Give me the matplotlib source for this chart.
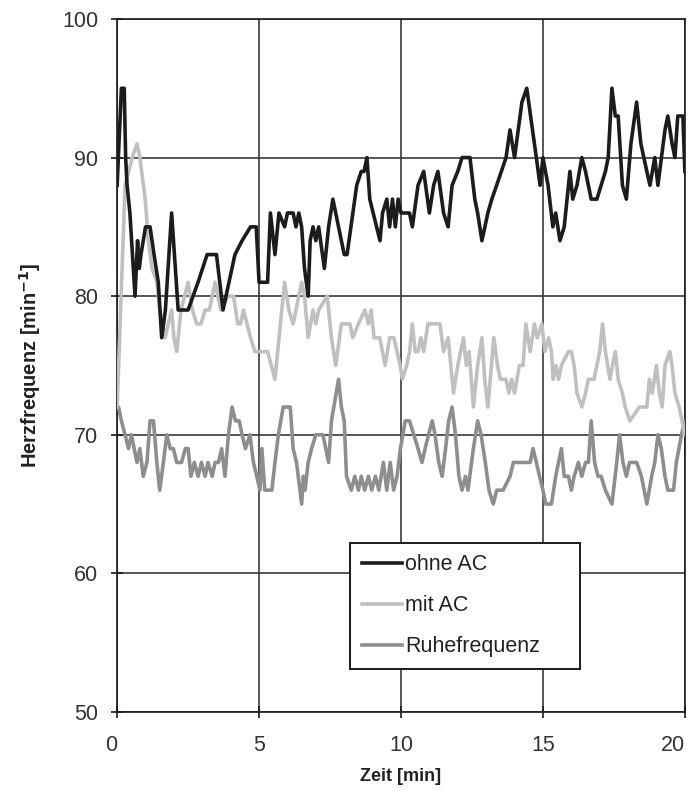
import matplotlib
matplotlib.use("Agg")
import matplotlib.pyplot as plt

plt.rcParams['font.family'] = ['Liberation Sans', 'DejaVu Sans']

# ohne AC
t_ohne = [0.0, 0.15, 0.25, 0.3, 0.35, 0.45, 0.63, 0.72, 0.78, 0.84, 1.0, 1.16, 1.3, 1.45, 1.57, 1.7,
          1.92, 2.15, 2.5, 2.85, 3.17, 3.5, 3.73, 4.15, 4.4, 4.7, 4.9, 5.0, 5.3, 5.4, 5.56, 5.7, 5.9,
          6.0, 6.2, 6.3, 6.4, 6.5, 6.6, 6.73, 6.8, 6.9, 7.0, 7.1, 7.3, 7.45, 7.6, 8.0, 8.1, 8.44, 8.6,
          8.7, 8.8, 8.9, 9.26, 9.35, 9.5, 9.6, 9.7, 9.8, 9.9, 10.0, 10.2, 10.3, 10.4, 10.6, 10.8, 11.0,
          11.15, 11.3, 11.5, 11.66, 11.8, 12.0, 12.15, 12.43, 12.6, 12.7, 12.85, 13.06, 13.2, 13.37,
          13.7, 13.84, 14.0, 14.26, 14.43, 14.7, 14.9, 15.0, 15.18, 15.35, 15.45, 15.6, 15.75, 15.95,
          16.05, 16.2, 16.37, 16.5, 16.7, 16.9, 17.2, 17.3, 17.43, 17.55, 17.65, 17.8, 17.94, 18.1,
          18.3, 18.45, 18.66, 18.77, 18.94, 19.05, 19.3, 19.4, 19.55, 19.65, 19.75, 19.93, 20.0]
hf_ohne = [88, 95, 95, 90, 88, 86, 80, 84, 82, 83, 85, 85, 83, 81, 77, 79,
           86, 79, 79, 81, 83, 83, 79, 83, 84, 85, 85, 81, 81, 86, 83, 86, 85,
           86, 86, 85, 86, 85, 82, 80, 84, 85, 84, 85, 82, 85, 87, 83, 83, 88, 89,
           89, 90, 87, 84, 86, 87, 85, 87, 85, 87, 86, 86, 86, 85, 88, 89, 86,
           88, 89, 86, 85, 88, 89, 90, 90, 87, 86, 84, 86, 87, 88,
           90, 92, 90, 94, 95, 91, 88, 90, 88, 85, 86, 84, 85, 89,
           87, 88, 90, 89, 87, 87, 89, 90, 95, 93, 93, 88, 87, 91,
           94, 91, 89, 88, 90, 88, 92, 93, 91, 90, 93, 93, 89]

# mit AC
t_mit = [0.0, 0.28, 0.53, 0.7, 0.8, 0.99, 1.1, 1.23, 1.4, 1.5, 1.69, 1.8, 1.92, 2.0, 2.1, 2.25, 2.5,
         2.65, 2.8, 2.95, 3.1, 3.25, 3.45, 3.65, 3.9, 4.1, 4.25, 4.35, 4.45, 4.7, 4.85, 5.15, 5.3,
         5.56, 5.8, 5.9, 6.05, 6.2, 6.3, 6.5, 6.6, 6.73, 6.9, 7.0, 7.1, 7.4, 7.55, 7.7, 7.9, 8.2,
         8.3, 8.5, 8.73, 8.85, 8.95, 9.05, 9.25, 9.44, 9.6, 9.75, 9.97, 10.05, 10.2, 10.3, 10.4,
         10.5, 10.6, 10.7, 10.8, 10.95, 11.1, 11.2, 11.37, 11.5, 11.66, 11.85, 12.0, 12.2, 12.3,
         12.4, 12.55, 12.7, 12.85, 12.95, 13.06, 13.27, 13.4, 13.5, 13.7, 13.8, 13.9, 14.0, 14.17,
         14.3, 14.4, 14.55, 14.7, 14.8, 14.96, 15.07, 15.2, 15.3, 15.36, 15.45, 15.55, 15.65, 15.9,
         16.0, 16.1, 16.2, 16.37, 16.5, 16.6, 16.8, 16.9, 17.0, 17.1, 17.2, 17.36, 17.45, 17.55,
         17.65, 17.8, 17.9, 18.06, 18.4, 18.66, 18.75, 18.85, 19.0, 19.1, 19.2, 19.3, 19.47, 19.55,
         19.65, 19.8, 19.9, 20.0]
hf_mit = [72, 88, 90, 91, 90, 87, 84, 82, 81, 79, 77, 78, 79, 77, 76, 79, 81,
          79, 78, 78, 79, 79, 81, 79, 80, 80, 78, 78, 79, 77, 76, 76, 76,
          74, 79, 81, 79, 78, 79, 81, 80, 77, 79, 78, 79, 80, 77, 75, 78, 78,
          77, 78, 79, 78, 79, 77, 77, 75, 77, 77, 75, 74, 75, 76, 78,
          76, 76, 77, 76, 78, 78, 78, 78, 76, 77, 73, 75, 77, 75,
          76, 72, 75, 77, 74, 72, 77, 75, 74, 74, 73, 74, 73, 75,
          75, 78, 76, 78, 77, 78, 76, 77, 76, 74, 75, 74, 75, 76,
          76, 75, 73, 72, 73, 74, 74, 75, 76, 78, 76, 74, 75, 76,
          74, 73, 72, 71, 72, 72, 74, 73, 75, 73, 72, 75, 76, 75,
          73, 72, 71, 70]

# Ruhefrequenz
t_ruhe = [0.0, 0.05, 0.15, 0.28, 0.4, 0.5, 0.6, 0.7, 0.8, 0.92, 1.05, 1.16, 1.28, 1.4, 1.5, 1.63,
          1.75, 1.87, 1.98, 2.1, 2.27, 2.4, 2.5, 2.6, 2.72, 2.85, 2.97, 3.1, 3.2, 3.35, 3.45, 3.57,
          3.68, 3.8, 3.92, 4.05, 4.17, 4.3, 4.4, 4.52, 4.68, 4.8, 4.92, 5.03, 5.1, 5.2, 5.45, 5.56,
          5.68, 5.85, 6.1, 6.2, 6.32, 6.44, 6.5, 6.56, 6.62, 6.73, 6.85, 7.0, 7.25, 7.45, 7.55, 7.8,
          7.9, 8.0, 8.08, 8.25, 8.37, 8.5, 8.6, 8.72, 8.85, 8.97, 9.1, 9.22, 9.38, 9.5, 9.62, 9.74,
          9.86, 9.98, 10.15, 10.3, 10.45, 10.6, 10.74, 10.85, 10.97, 11.1, 11.2, 11.33, 11.45, 11.57,
          11.68, 11.8, 11.92, 12.04, 12.15, 12.27, 12.36, 12.55, 12.7, 12.82, 12.97, 13.1, 13.25,
          13.37, 13.6, 13.84, 13.96, 14.2, 14.4, 14.55, 14.65, 14.77, 14.88, 15.0, 15.1, 15.3, 15.45,
          15.65, 15.75, 15.9, 16.0, 16.1, 16.25, 16.37, 16.5, 16.6, 16.7, 16.82, 16.94, 17.05, 17.2,
          17.43, 17.6, 17.7, 17.82, 17.94, 18.05, 18.2, 18.3, 18.47, 18.66, 18.83, 18.94, 19.05,
          19.17, 19.3, 19.4, 19.6, 19.7, 19.88, 20.0]
hf_ruhe = [72, 72, 71, 70, 69, 70, 69, 68, 69, 67, 68, 71, 71, 68, 66, 68,
           70, 69, 69, 68, 68, 69, 69, 67, 68, 67, 68, 67, 68, 67, 68, 68,
           69, 67, 70, 72, 71, 71, 70, 69, 70, 68, 67, 66, 69, 66, 66, 68,
           70, 72, 72, 69, 68, 66, 65, 67, 66, 68, 69, 70, 70, 68, 71, 74,
           72, 71, 67, 66, 67, 66, 67, 66, 67, 66, 67, 66, 68, 66, 68, 66,
           67, 69, 71, 71, 70, 69, 68, 69, 70, 71, 70, 68, 67, 69,
           71, 72, 70, 67, 66, 67, 66, 69, 71, 70, 68, 66, 65,
           66, 66, 67, 68, 68, 68, 68, 69, 68, 67, 66, 65, 65, 67,
           69, 67, 67, 66, 67, 68, 67, 68, 68, 71, 68, 67, 67, 66,
           65, 68, 70, 68, 67, 68, 68, 68, 67, 65, 67, 68, 70,
           69, 67, 66, 66, 68, 70, 71]

labels = ["ohne AC", "mit AC", "Ruhefrequenz"]
colors = ["#1c1c1c", "#c0c0c2", "#8e8e90"]

fig = plt.figure(figsize=(6.89, 7.91), dpi=100)
ax = fig.add_axes([0.170, 0.100, 0.824, 0.876])

ax.plot(t_ohne, hf_ohne, color=colors[0], lw=2.6, label=labels[0], zorder=5)
ax.plot(t_mit, hf_mit, color=colors[1], lw=2.6, label=labels[1], zorder=4)
ax.plot(t_ruhe, hf_ruhe, color=colors[2], lw=2.6, label=labels[2], zorder=3)

ax.set_xlim(0, 20)
ax.set_ylim(50, 100)
ax.set_xticks([0, 5, 10, 15, 20])
ax.set_yticks([50, 60, 70, 80, 90, 100])
ax.grid(True, color="#3a3a3a", lw=1.2)
ax.set_axisbelow(True)
for s in ax.spines.values():
    s.set_color("#1a1a1a")
    s.set_linewidth(1.2)
ax.tick_params(direction="inout", length=9, width=1.2, color="#1a1a1a",
               labelsize=15.5, labelcolor="#333333")
ax.tick_params(axis="x", pad=12)
ax.tick_params(axis="y", pad=9)
ax.get_xticklabels()[-1].set_horizontalalignment("right")
ax.get_xticklabels()[0].set_horizontalalignment("right")

ax.set_xlabel("Zeit [min]", fontsize=13, fontweight="bold", color="#222222", labelpad=9)
ax.set_ylabel("Herzfrequenz [min$^{\\mathbf{-1}}$]", fontsize=14.5, fontweight="bold",
              color="#222222", labelpad=14)

leg = ax.legend(loc="lower left", bbox_to_anchor=(0.41, 0.062, 0.405, 0.182), mode="expand",
                fontsize=15.5, handlelength=1.86, handletextpad=0.15, labelspacing=0.92,
                borderpad=0.55, fancybox=False, framealpha=1, edgecolor="#1a1a1a",
                borderaxespad=0)
leg.get_frame().set_linewidth(1.4)
for txt in leg.get_texts():
    txt.set_color("#222222")

fig.savefig("out.png", dpi=100)
